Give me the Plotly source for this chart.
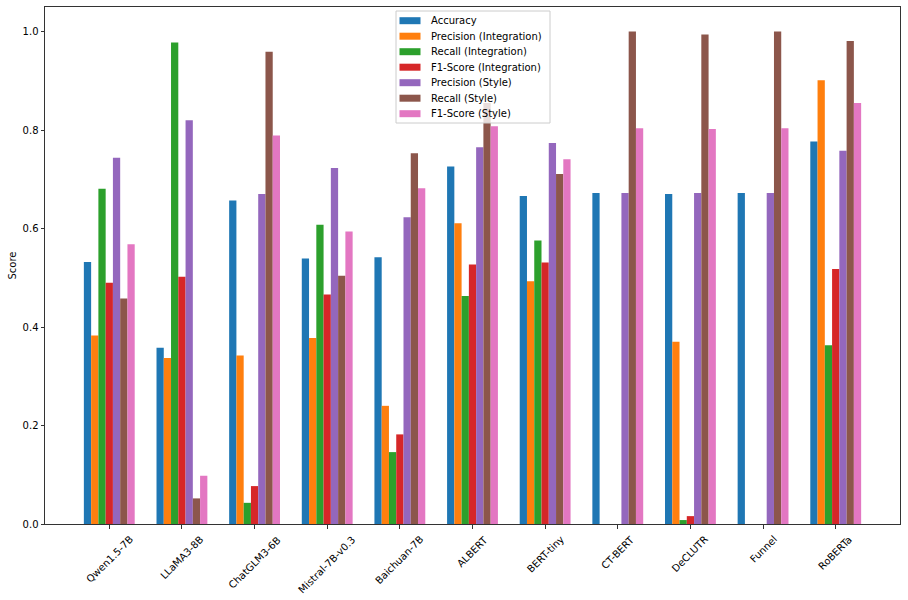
import plotly.graph_objects as go

models = ["Qwen1.5-7B", "LLaMA3-8B", "ChatGLM3-6B", "Mistral-7B-v0.3", "Baichuan-7B",
          "ALBERT", "BERT-tiny", "CT-BERT", "DeCLUTR", "Funnel", "RoBERTa"]

accuracy = [0.532, 0.358, 0.657, 0.539, 0.542, 0.726, 0.666, 0.672, 0.670, 0.672, 0.777]
precision_int = [0.383, 0.337, 0.342, 0.378, 0.240, 0.611, 0.493, 0.0, 0.370, 0.0, 0.901]
recall_int = [0.681, 0.978, 0.043, 0.608, 0.146, 0.463, 0.576, 0.0, 0.008, 0.0, 0.363]
f1_int = [0.490, 0.502, 0.077, 0.466, 0.182, 0.527, 0.531, 0.0, 0.016, 0.0, 0.518]
precision_style = [0.744, 0.820, 0.670, 0.723, 0.623, 0.765, 0.774, 0.672, 0.672, 0.672, 0.758]
recall_style = [0.458, 0.052, 0.959, 0.504, 0.753, 0.855, 0.711, 1.0, 0.994, 1.0, 0.981]
f1_style = [0.568, 0.098, 0.789, 0.594, 0.682, 0.808, 0.741, 0.804, 0.802, 0.804, 0.855]

series_names = ["Accuracy", "Precision (Integration)", "Recall (Integration)",
                "F1-Score (Integration)", "Precision (Style)", "Recall (Style)",
                "F1-Score (Style)"]
series_values = [accuracy, precision_int, recall_int, f1_int,
                 precision_style, recall_style, f1_style]
colors = ["#1f77b4", "#ff7f0e", "#2ca02c", "#d62728", "#9467bd", "#8c564b", "#e377c2"]

y_ticks = [0.0, 0.2, 0.4, 0.6, 0.8, 1.0]

W, H = 908, 600
ML, MR, MT, MB = 45, 8, 7, 76
PW, PH = W - ML - MR, H - MT - MB


def px_x(px):
    return (px - ML) / PW


def px_y(py):
    return (H - MB - py) / PH


fig = go.Figure()
for name, vals, col in zip(series_names, series_values, colors):
    fig.add_trace(go.Bar(name=name, x=models, y=vals, marker_color=col,
                         marker_line_width=0, showlegend=False))

spine = "#333333"
fig.update_layout(
    width=W, height=H,
    margin=dict(l=ML, r=MR, t=MT, b=MB),
    paper_bgcolor="white", plot_bgcolor="white",
    font=dict(family="DejaVu Sans", size=10, color="black"),
    barmode="group", bargap=0.3, bargroupgap=0,
    showlegend=False,
    xaxis=dict(type="category", range=[-0.885, 10.885], showline=True, mirror=True,
               linecolor=spine, linewidth=1, ticks="outside", ticklen=3.5,
               tickwidth=0.8, tickcolor=spine, showticklabels=False,
               showgrid=False, zeroline=False),
    yaxis=dict(range=[0, 1.05], tickvals=y_ticks,
               ticktext=[f"{v:.1f}" for v in y_ticks], showline=True, mirror=True,
               linecolor=spine, linewidth=1, ticks="outside", ticklen=3.5,
               tickwidth=0.8, tickcolor=spine, showgrid=False, zeroline=False,
               tickfont=dict(size=10)),
)

annotations = []
for m in models:
    annotations.append(dict(x=m, xref="x", y=0, yref="paper", yshift=-7,
                            text=m, showarrow=False, textangle=-45,
                            xanchor="center", yanchor="top",
                            font=dict(size=10, color="black")))
annotations.append(dict(x=0, xref="paper", y=0.5, yref="paper", xshift=-33,
                        text="Score", showarrow=False, textangle=-90,
                        xanchor="center", yanchor="middle",
                        font=dict(size=10, color="black")))

# legend (matplotlib-style, upper center)
shapes = []
box_x0, box_x1, box_y0, box_y1 = 396, 550, 11, 123
shapes.append(dict(type="rect", xref="paper", yref="paper",
                   x0=px_x(box_x0), x1=px_x(box_x1), y0=px_y(box_y1), y1=px_y(box_y0),
                   fillcolor="rgba(255,255,255,0.8)", line=dict(color="#cccccc", width=1),
                   layer="above"))
row0, row_step = 20.7, 15.5
for i, (name, col) in enumerate(zip(series_names, colors)):
    cy = row0 + i * row_step
    shapes.append(dict(type="rect", xref="paper", yref="paper",
                       x0=px_x(399.5), x1=px_x(420.5),
                       y0=px_y(cy + 3.5), y1=px_y(cy - 3.5),
                       fillcolor=col, line=dict(width=0), layer="above"))
    annotations.append(dict(x=px_x(428.5), xref="paper", y=px_y(cy), yref="paper",
                            text=name, showarrow=False, xanchor="left",
                            yanchor="middle", font=dict(size=10, color="black")))

fig.update_layout(annotations=annotations, shapes=shapes)

fig.write_html("out.html")
